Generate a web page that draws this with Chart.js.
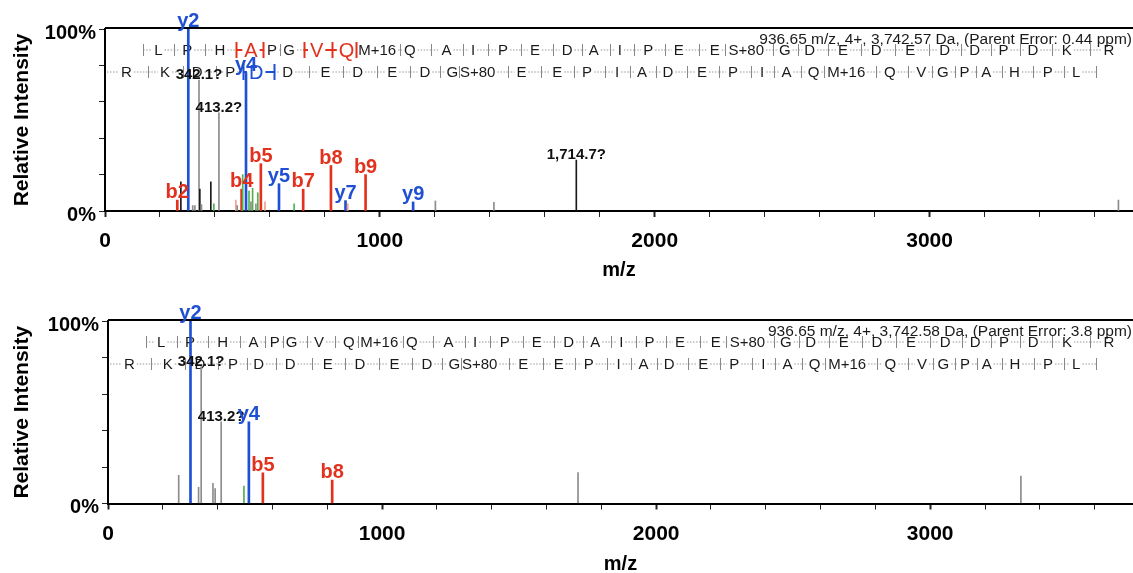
<!DOCTYPE html>
<html>
<head>
<meta charset="utf-8">
<script src="https://cdn.jsdelivr.net/npm/chart.js@4.4.0/dist/chart.umd.min.js"></script>
<style>
  html, body { margin: 0; padding: 0; background: #fff; overflow: hidden; }
  .panel { position: absolute; left: 0; width: 1133px; }
  #top { top: 0; height: 286px; }
  #bottom { top: 286px; height: 294px; }
</style>
</head>
<body>
<div class="panel" id="top"><canvas id="chartTop"></canvas></div>
<div class="panel" id="bottom"><canvas id="chartBottom"></canvas></div>
<script>
'use strict';

// top spectrum peaks
let topMz    = [263, 276, 303, 319, 327, 342, 345, 351, 385, 396, 414.5, 476, 481, 497, 501, 513, 524, 531, 537, 549, 556, 567, 582, 633, 688, 721, 822, 875, 883, 948, 1121, 1202, 1415, 1714.7, 3687];
let topInt   = [6, 16, 100, 3, 3, 72, 12, 3.5, 16, 4, 54, 6, 3, 12, 20, 76, 11, 5, 12.5, 4, 10, 26, 5, 15, 4, 12, 25, 5.7, 4, 20, 5, 5.5, 4.8, 28, 6];
let topKind  = ['b','k','y','u','u','u','k','u','k','n','u','l','u','b','n','y','n','u','n','u','n','b','l','y','n','b','b','y','l','b','y','u','u','k','u'];
let topLabel = ['b2','','y2','','','342.1?','','','','','413.2?','','','b4','','y4','','','','','','b5','','y5','','b7','b8','y7','','b9','y9','','','1,714.7?',''];
let topHeader = '936.65 m/z, 4+, 3,742.57 Da, (Parent Error: 0.44 ppm)';

// bottom spectrum peaks
let botMz    = [258, 301, 330.5, 340, 383, 391, 413, 496, 514, 565, 818, 1715, 3331];
let botInt   = [15.5, 100, 8.8, 75, 11, 8.2, 44.7, 9.6, 44.7, 16.8, 12.8, 17, 15];
let botKind  = ['u','y','u','u','u','u','u','n','y','b','b','u','u'];
let botLabel = ['','y2','','342.1?','','','413.2?','','y4','b5','b8','',''];
let botHeader = '936.65 m/z, 4+, 3,742.58 Da, (Parent Error: 3.8 ppm)';

// peptide sequence, forward and reversed, with label positions (m/z)
let seqFwd   = ['L','P','H','A','P','G','V','Q','M+16','Q','A','I','P','E','D','A','I','P','E','E','S+80','G','D','E','D','E','D','D','P','D','K','R'];
let seqFwdMz = [194, 299, 418, 531, 608, 670, 770, 879, 990, 1109, 1242, 1339, 1448, 1564, 1681, 1778, 1873, 1976, 2087, 2218, 2333, 2473, 2564, 2685, 2806, 2930, 3055, 3164, 3269, 3376, 3499, 3652];
let seqRev   = ['R','K','D','P','D','D','E','D','E','D','G','S+80','E','E','P','I','A','D','E','P','I','A','Q','M+16','Q','V','G','P','A','H','P','L'];
let seqRevMz = [78, 218, 335, 456, 550, 665, 802, 919, 1045, 1164, 1264, 1356, 1515, 1645, 1754, 1863, 1954, 2048, 2172, 2285, 2391, 2479, 2578, 2697, 2855, 2970, 3048, 3127, 3206, 3309, 3430, 3533];

const FONT = '"Liberation Sans", Arial, sans-serif';
Chart.defaults.font.family = FONT;

const kindColor = { b: '#e2321e', y: '#1f4fd2', u: '#8c8c8c', k: '#1a1a1a', n: '#52b052', l: '#f4a08e' };
const RED = '#e2321e';
const BLUE = '#1f4fd2';

function drawRow(chart, y, letters, mzs, hi, hiColor, lead, trail) {
  const ctx = chart.ctx;
  const xs = chart.scales.x;
  const items = letters.map((t, i) => {
    const big = hi.includes(i);
    ctx.font = (big ? '20px ' : '15px ') + FONT;
    const w = ctx.measureText(t).width;
    const c = xs.getPixelForValue(mzs[i]);
    return { t: t, c: c, big: big, l: c - w / 2, r: c + w / 2 };
  });

  function seg(x0, x1, solid) {
    if (x1 <= x0) return;
    ctx.save();
    ctx.beginPath();
    if (solid) { ctx.strokeStyle = hiColor; ctx.lineWidth = 2; }
    else { ctx.strokeStyle = '#999'; ctx.lineWidth = 1; ctx.setLineDash([1.5, 1.5]); }
    ctx.moveTo(x0, y);
    ctx.lineTo(x1, y);
    ctx.stroke();
    ctx.restore();
  }
  function tick(x, strong) {
    ctx.save();
    ctx.beginPath();
    ctx.strokeStyle = strong ? hiColor : '#888';
    ctx.lineWidth = strong ? 2 : 1;
    const h = strong ? 8 : 6;
    ctx.moveTo(Math.round(x) + 0.5, y - h);
    ctx.lineTo(Math.round(x) + 0.5, y + h);
    ctx.stroke();
    ctx.restore();
  }

  for (let i = 0; i <= items.length; i++) {
    const prev = items[i - 1];
    const next = items[i];
    if (!prev) {
      if (lead === 'axis') seg(chart.chartArea.left + 2, next.l - 3, false);
      else if (lead === 'tick') {
        const tx = next.l - 11;
        seg(tx, next.l - 2, next.big);
        tick(tx, next.big);
      }
      continue;
    }
    if (!next) {
      if (trail) {
        const tx = prev.r + 16;
        seg(prev.r + 2, tx, prev.big);
        tick(tx, prev.big);
      }
      continue;
    }
    const x0 = prev.r + 2;
    const x1 = next.l - 2;
    const tx = x0 + (x1 - x0) * 0.6;
    seg(x0, tx, prev.big);
    seg(tx, x1, next.big);
    tick(tx, prev.big || next.big);
  }

  ctx.save();
  ctx.textAlign = 'center';
  ctx.textBaseline = 'middle';
  items.forEach(it => {
    ctx.font = (it.big ? '20px ' : '15px ') + FONT;
    ctx.fillStyle = it.big ? hiColor : '#1a1a1a';
    ctx.fillText(it.t, it.c, y + 1);
  });
  ctx.restore();
}

function decorPlugin(p) {
  return {
    id: 'decor',
    beforeDatasetsDraw(chart) {
      const area = chart.chartArea;
      drawRow(chart, area.top + 21, seqFwd, seqFwdMz, p.hiFwd, RED, 'tick', false);
      drawRow(chart, area.top + 43, seqRev, seqRevMz, p.hiRev, BLUE, 'axis', true);
    },
    afterDatasetsDraw(chart) {
      const ctx = chart.ctx;
      const area = chart.chartArea;
      const xs = chart.scales.x;
      const ys = chart.scales.y;

      // top frame line
      ctx.save();
      ctx.strokeStyle = '#000';
      ctx.lineWidth = 2;
      ctx.beginPath();
      ctx.moveTo(area.left, area.top - 1);
      ctx.lineTo(area.right, area.top - 1);
      ctx.stroke();

      // header text
      ctx.font = '15.5px ' + FONT;
      ctx.fillStyle = '#1a1a1a';
      ctx.textAlign = 'right';
      ctx.textBaseline = 'middle';
      ctx.fillText(p.header, area.right - 1, area.top + 11);

      // peak labels
      ctx.textAlign = 'center';
      ctx.textBaseline = 'alphabetic';
      p.labels.forEach((t, i) => {
        if (!t) return;
        const k = p.kind[i];
        const px = xs.getPixelForValue(p.mz[i]);
        const py = ys.getPixelForValue(p.inten[i]);
        if (k === 'b' || k === 'y') {
          ctx.font = 'bold 20px ' + FONT;
          ctx.fillStyle = kindColor[k];
          ctx.fillText(t, px, py - 2);
        } else {
          ctx.font = 'bold 15px ' + FONT;
          ctx.fillStyle = '#111';
          ctx.fillText(t, px, py - 1);
        }
      });
      ctx.restore();
    }
  };
}

function makePanel(canvasId, p) {
  let ionData = [], ionColors = [], otherData = [], otherColors = [];
  for (let i = 0; i < p.mz.length; i++) {
    const k = p.kind[i];
    const pt = { x: p.mz[i], y: p.inten[i] };
    if (k === 'b' || k === 'y') { ionData.push(pt); ionColors.push(kindColor[k]); }
    else { otherData.push(pt); otherColors.push(kindColor[k]); }
  }

  let chartObj = {
    type: 'bar',
    data: {
      datasets: [
        { data: otherData, backgroundColor: otherColors, barThickness: 1, grouped: false },
        { data: ionData, backgroundColor: ionColors, barThickness: 2, grouped: false }
      ]
    },
    options: {
      responsive: true,
      maintainAspectRatio: false,
      animation: false,
      layout: { padding: { top: p.top, right: 0, left: 0, bottom: 0 } },
      plugins: { legend: { display: false }, tooltip: { enabled: false } },
      scales: {
        x: {
          type: 'linear',
          min: 0,
          max: 3740,
          offset: false,
          afterFit: s => { s.height = p.xAxisHeight; },
          border: { color: '#000', width: 2 },
          grid: {
            offset: false,
            drawOnChartArea: false,
            tickLength: 6,
            tickColor: '#222',
            tickWidth: c => (c.tick && c.tick.value % 1000 === 0) ? 2 : 1
          },
          ticks: {
            stepSize: 200,
            autoSkip: false,
            maxRotation: 0,
            includeBounds: false,
            padding: 12,
            color: '#000',
            font: { size: 21, weight: 'bold' },
            callback: v => (v % 1000 === 0 ? String(v) : '')
          },
          title: {
            display: true,
            text: 'm/z',
            color: '#000',
            font: { size: 20, weight: 'bold' },
            padding: { top: 0, bottom: 4 }
          }
        },
        y: {
          min: 0,
          max: 100,
          afterFit: s => { s.width = p.left; },
          border: { color: '#000', width: 2 },
          grid: { drawOnChartArea: false, tickLength: 6, tickColor: '#222' },
          ticks: {
            stepSize: 20,
            padding: 3,
            labelOffset: 4,
            color: '#000',
            font: { size: 20, weight: 'bold' },
            callback: v => ((v === 0 || v === 100) ? v + '%' : '')
          },
          title: {
            display: true,
            text: 'Relative Intensity',
            color: '#000',
            font: { size: 21, weight: 'bold' },
            padding: { top: 10, bottom: 0 }
          }
        }
      }
    },
    plugins: [decorPlugin(p)]
  };
  new Chart(document.getElementById(canvasId), chartObj);
}

makePanel('chartTop', {
  mz: topMz, inten: topInt, kind: topKind, labels: topLabel, header: topHeader,
  hiFwd: [3, 6, 7], hiRev: [4], top: 29, left: 105, xAxisHeight: 75
});

makePanel('chartBottom', {
  mz: botMz, inten: botInt, kind: botKind, labels: botLabel, header: botHeader,
  hiFwd: [], hiRev: [], top: 35, left: 108, xAxisHeight: 76.5
});
</script>
</body>
</html>
